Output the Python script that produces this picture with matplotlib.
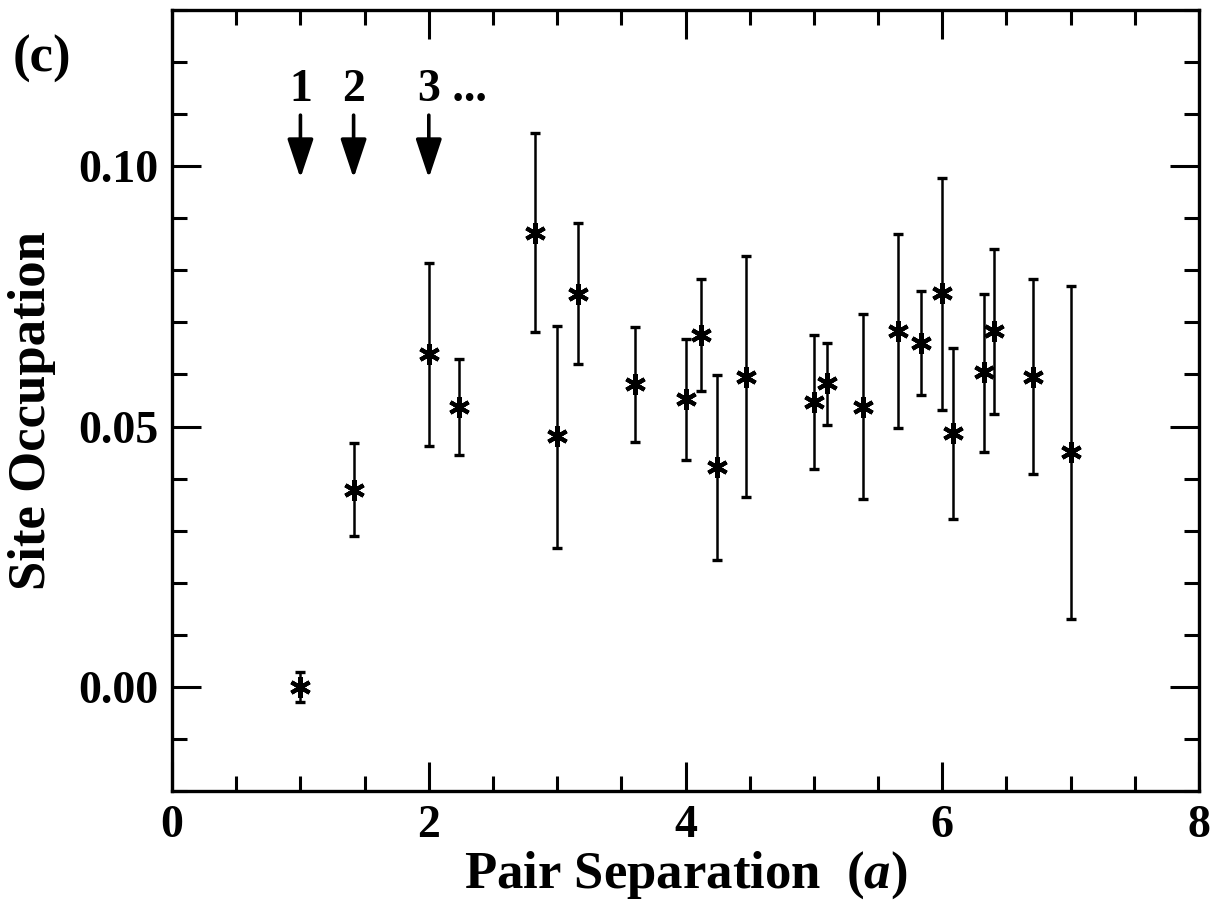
import numpy as np
import matplotlib
matplotlib.use('Agg')
import matplotlib.pyplot as plt
from matplotlib.ticker import MultipleLocator

plt.rcParams['font.family'] = ['Liberation Serif', 'DejaVu Serif']
plt.rcParams['font.weight'] = 'bold'
plt.rcParams['mathtext.fontset'] = 'custom'
plt.rcParams['mathtext.it'] = 'Liberation Serif:italic:bold'

# pair separations are sqrt of shell index squared distances (units of a)
shell_sq = [1, 2, 4, 5, 8, 9, 10, 13, 16, 17, 18, 20, 25, 26, 29, 32, 34, 36, 37, 40, 41, 45, 49]
occupation = [0.0000, 0.0378, 0.0639, 0.0538, 0.0871, 0.0481, 0.0754, 0.0582, 0.0552, 0.0676,
              0.0422, 0.0595, 0.0548, 0.0583, 0.0537, 0.0683, 0.0660, 0.0756, 0.0487, 0.0604,
              0.0683, 0.0595, 0.0452]
err_lo = [0.0029, 0.0088, 0.0177, 0.0092, 0.0189, 0.0215, 0.0134, 0.0111, 0.0116, 0.0108,
          0.0178, 0.0231, 0.0129, 0.0080, 0.0177, 0.0186, 0.0099, 0.0224, 0.0165, 0.0153,
          0.0158, 0.0186, 0.0321]
err_hi = [0.0029, 0.0091, 0.0176, 0.0091, 0.0192, 0.0212, 0.0136, 0.0110, 0.0116, 0.0107,
          0.0176, 0.0232, 0.0128, 0.0077, 0.0179, 0.0186, 0.0101, 0.0222, 0.0164, 0.0150,
          0.0157, 0.0189, 0.0317]

arrow_x = [1.0, np.sqrt(2), 2.0]
arrow_lbl = ['1', '2', '3 ...']

sep = np.sqrt(shell_sq)

fig = plt.figure(figsize=(12.22, 9.07), dpi=100)
ax = fig.add_axes([0.1408, 0.1279, 0.8404, 0.8611])

ax.errorbar(sep, occupation, yerr=[err_lo, err_hi], fmt='none', ecolor='black',
            elinewidth=1.8, capsize=3.6, capthick=2.4, zorder=2)
ax.plot(sep, occupation, ls='none', marker=(6, 2, 0), ms=15, mew=3.0, color='black', zorder=3)

# shell arrows
for x, lbl in zip(arrow_x, arrow_lbl):
    ax.annotate('', xy=(x, 0.0977), xytext=(x, 0.1098),
                arrowprops=dict(arrowstyle='-|>,head_length=1.2,head_width=0.4',
                                mutation_scale=20, lw=2.6, color='black',
                                shrinkA=0, shrinkB=0))
    if lbl.startswith('3'):
        ax.text(x - 0.085, 0.1146, lbl, ha='left', va='center', fontsize=33, fontweight='bold')
    else:
        ax.text(x, 0.1146, lbl, ha='center', va='center', fontsize=33, fontweight='bold')

ax.set_xlim(0, 8)
ax.set_ylim(-0.02, 0.13)
ax.xaxis.set_major_locator(MultipleLocator(2))
ax.xaxis.set_minor_locator(MultipleLocator(0.5))
ax.yaxis.set_major_locator(MultipleLocator(0.05))
ax.yaxis.set_minor_locator(MultipleLocator(0.01))
ax.yaxis.set_major_formatter(matplotlib.ticker.FormatStrFormatter('%.2f'))
ax.tick_params(which='both', direction='in', top=True, right=True, width=2.2)
ax.tick_params(which='major', length=21, labelsize=33, pad=10)
ax.tick_params(which='minor', length=10.5)
for t in ax.get_xticklabels() + ax.get_yticklabels():
    t.set_fontweight('bold')
for s in ax.spines.values():
    s.set_linewidth(2.4)

ax.set_xlabel(r'Pair Separation  ($\mathit{a}$)', fontsize=38, fontweight='bold', labelpad=2)
ax.set_ylabel('Site Occupation', fontsize=38, fontweight='bold')
ax.yaxis.set_label_coords(-0.113, 0.487)
fig.text(0.010, 0.935, '(c)', fontsize=38, fontweight='bold', ha='left', va='center')

fig.savefig('out.png', dpi=100)
